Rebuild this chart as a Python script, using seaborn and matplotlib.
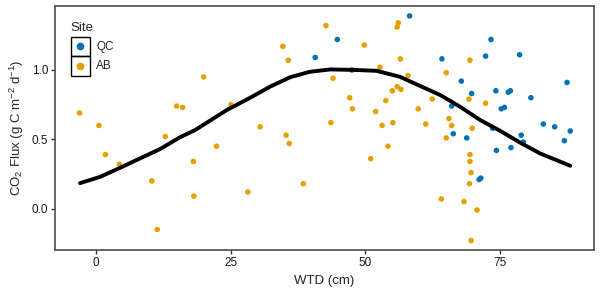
import matplotlib
matplotlib.use("Agg")
import matplotlib.pyplot as plt
import pandas as pd
import seaborn as sns
from matplotlib.lines import Line2D
from matplotlib.patches import Rectangle
from matplotlib.legend_handler import HandlerBase

# values
ab_wtd = [-3.0, 0.6, 1.8, 4.4, 10.4, 11.4, 12.9, 15.0, 16.1, 18.1, 18.2, 20.0, 22.4, 25.1, 28.2,
          30.5, 34.7, 35.7, 35.3, 35.9, 38.5, 42.7, 44.0, 43.6, 47.1, 47.6, 49.8, 51.0, 51.9, 52.7,
          53.1, 53.8, 54.2, 55.0, 55.1, 55.9, 56.6, 55.9, 56.1, 56.5, 57.9, 59.8, 61.2, 62.4, 65.0,
          65.5, 66.0, 65.0, 64.1, 68.3, 69.2, 69.4, 69.8, 69.4, 69.4, 69.6, 69.3, 70.7, 69.6, 72.3]
ab_flux = [0.69, 0.60, 0.39, 0.32, 0.20, -0.15, 0.52, 0.74, 0.73, 0.34, 0.09, 0.95, 0.45, 0.75, 0.12,
           0.59, 1.17, 1.07, 0.53, 0.47, 0.18, 1.32, 0.94, 0.62, 0.80, 0.72, 1.18, 0.36, 0.70, 1.02,
           0.60, 0.78, 0.45, 0.85, 0.62, 0.88, 0.86, 1.31, 1.34, 1.08, 0.96, 0.72, 0.61, 0.79, 0.98,
           0.65, 0.60, 0.51, 0.07, 0.05, 0.79, 1.07, 0.58, 0.39, 0.34, 0.26, 0.18, -0.01, -0.23, 0.76]

qc_wtd = [40.7, 44.8, 47.5, 58.2, 64.2, 67.8, 69.7, 72.3, 73.3, 78.6, 87.4, 74.2, 76.5, 76.9, 80.7,
          66.0, 75.2, 75.8, 73.6, 83.0, 85.1, 88.0, 66.3, 68.8, 78.9, 86.9, 74.3, 77.0, 79.3, 71.4, 71.1]
qc_flux = [1.09, 1.22, 1.00, 1.39, 1.08, 0.92, 0.83, 1.10, 1.22, 1.11, 0.91, 0.85, 0.84, 0.85, 0.80,
           0.74, 0.72, 0.73, 0.58, 0.61, 0.59, 0.56, 0.54, 0.51, 0.53, 0.49, 0.42, 0.44, 0.48, 0.22, 0.21]

# fitted curve, points
curve_wtd = [-2.9, 0.8, 4.5, 8.2, 11.9, 15.6, 18.4, 24.3, 28.6, 32.3, 36.0, 39.7, 43.5, 47.5,
             52.1, 56.4, 60.2, 63.9, 67.6, 71.3, 75.0, 78.7, 82.4, 88.0]
curve_flux = [0.184, 0.229, 0.294, 0.362, 0.429, 0.514, 0.566, 0.711, 0.799, 0.879, 0.947, 0.987,
              1.004, 1.001, 0.994, 0.951, 0.884, 0.819, 0.734, 0.639, 0.561, 0.476, 0.398, 0.309]

site_colors = {"QC": "#0072B2", "AB": "#E69F00"}

df = pd.concat([
    pd.DataFrame({"WTD": qc_wtd, "Flux": qc_flux, "Site": "QC"}),
    pd.DataFrame({"WTD": ab_wtd, "Flux": ab_flux, "Site": "AB"}),
])
curve = pd.DataFrame({"WTD": curve_wtd, "Flux": curve_flux})

sns.set_style("ticks")
plt.rcParams["font.family"] = ["Liberation Sans", "DejaVu Sans"]
plt.rcParams["mathtext.default"] = "regular"


class BoxedDot(HandlerBase):
    # ggplot style legend key: square box with a dot in the middle
    def create_artists(self, legend, orig_handle, xdescent, ydescent, width, height, fontsize, trans):
        box = Rectangle((-xdescent, -ydescent), width, height, fill=False,
                        ec="black", lw=1.0, transform=trans)
        dot = Line2D([width / 2 - xdescent], [height / 2 - ydescent], marker="o", ms=4.5,
                     color=orig_handle.get_color(), ls="", transform=trans)
        return [box, dot]


fig = plt.figure(figsize=(6, 2.97), dpi=100)
ax = fig.add_axes([0.0917, 0.158, 0.8983, 0.822])

sns.scatterplot(data=df, x="WTD", y="Flux", hue="Site", palette=site_colors,
                s=16, linewidth=0, ax=ax, legend=False)
sns.lineplot(data=curve, x="WTD", y="Flux", color="black", lw=2.8, ax=ax, sort=False)

ax.set_xlim(-7.55, 92.4)
ax.set_ylim(-0.299, 1.462)
ax.set_xticks([0, 25, 50, 75])
ax.set_yticks([0.0, 0.5, 1.0])
ax.set_yticklabels(["0.0", "0.5", "1.0"])
ax.tick_params(length=3, width=1, color="#333333", labelsize=8.5, labelcolor="#1a1a1a", pad=2)
for sp in ax.spines.values():
    sp.set_visible(True)
    sp.set_color("#4d4d4d")
    sp.set_linewidth(1.2)

ax.set_xlabel("WTD (cm)", fontsize=9.5, labelpad=4)
ax.set_ylabel("CO$_2$ Flux (g C m$^{-2}$ d$^{-1}$)", fontsize=9.5, labelpad=4)

handles = [Line2D([], [], marker="o", color=site_colors[s], ls="") for s in ["QC", "AB"]]
leg = ax.legend(handles, ["QC", "AB"], title="Site", loc="upper left",
                bbox_to_anchor=(0.029, 0.935), frameon=False, fontsize=8.5, title_fontsize=9.5,
                handlelength=1.65, handleheight=2.16, labelspacing=0, handletextpad=0.5,
                borderpad=0, borderaxespad=0, alignment="left",
                handler_map={Line2D: BoxedDot()})
leg._legend_box.sep = 2

fig.savefig("out.png", dpi=100)
